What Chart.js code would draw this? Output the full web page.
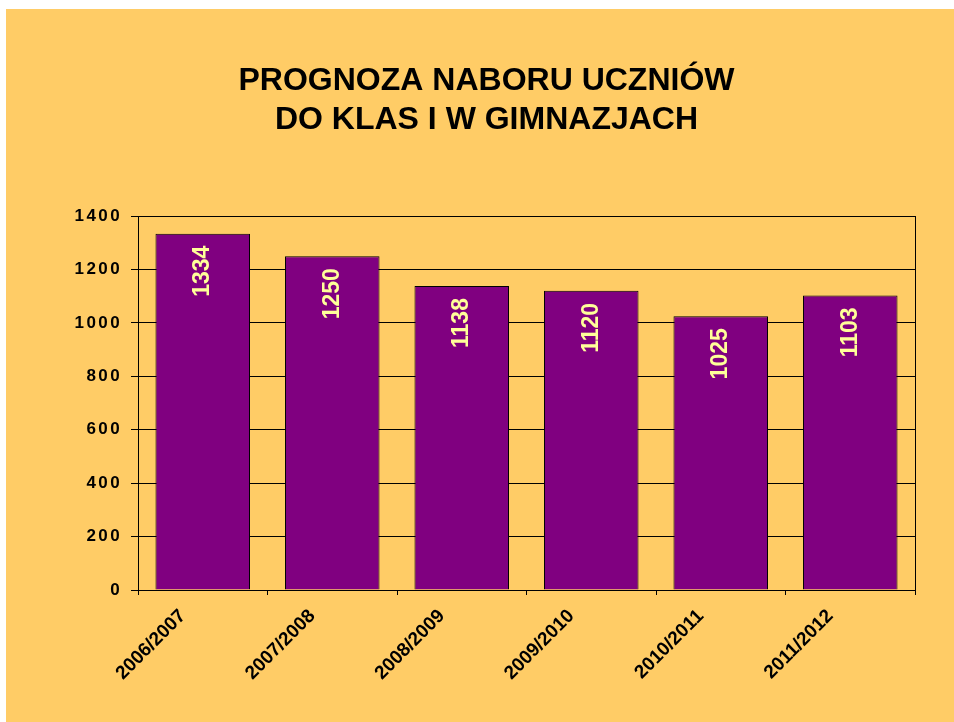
<!DOCTYPE html>
<html>
<head>
<meta charset="utf-8">
<script src="https://cdn.jsdelivr.net/npm/chart.js@4.4.1/dist/chart.umd.min.js"></script>
<style>
  body { margin: 0; background: #ffffff; }
  #panel { position: absolute; left: 6px; top: 9px; width: 948px; height: 713px; background: #FFCC66; }
</style>
</head>
<body>
<div id="panel"><canvas id="naborChart" width="948" height="713"></canvas></div>
<script>
// Dane wykresu
const lataSzkolne = ['2006/2007', '2007/2008', '2008/2009', '2009/2010', '2010/2011', '2011/2012'];
const liczbaUczniow = [1334, 1250, 1138, 1120, 1025, 1103];
const podzialkaY = [0, 200, 400, 600, 800, 1000, 1200, 1400];
const tytul = ['PROGNOZA NABORU UCZNIÓW', 'DO KLAS I W GIMNAZJACH'];

const FONT = "'Liberation Sans', Arial, sans-serif";

// Ramka obszaru wykresu (górna i prawa krawędź)
const ramkaPlugin = {
  id: 'ramka',
  beforeDraw(chart) {
    // odstępy między cyframi na osi Y
    const sy = chart.scales.y;
    if (sy && !sy._spaced) {
      const orig = sy.drawLabels;
      sy.drawLabels = function (area) {
        const ctx = this.ctx;
        ctx.save();
        ctx.letterSpacing = '2.4px';
        orig.call(this, area);
        ctx.restore();
      };
      sy._spaced = true;
    }
  },
  afterDraw(chart) {
    const { ctx, chartArea: a } = chart;
    ctx.save();
    ctx.strokeStyle = '#000000';
    ctx.lineWidth = 1;
    ctx.strokeRect(Math.round(a.left) + 0.5, Math.round(a.top) + 0.5,
      Math.round(a.right - a.left), Math.round(a.bottom - a.top));
    ctx.restore();
  }
};

// Wartości wpisane pionowo w słupki
const etykietyPlugin = {
  id: 'etykiety',
  afterDatasetsDraw(chart) {
    const ctx = chart.ctx;
    const meta = chart.getDatasetMeta(0);
    ctx.save();
    ctx.fillStyle = '#FFFF99';
    ctx.font = 'bold 23px ' + FONT;
    ctx.textAlign = 'right';
    ctx.textBaseline = 'middle';
    meta.data.forEach((bar, i) => {
      ctx.save();
      ctx.translate(bar.x, bar.y + 12);
      ctx.rotate(-Math.PI / 2);
      ctx.fillText(String(liczbaUczniow[i]), 0, 0);
      ctx.restore();
    });
    ctx.restore();
  }
};

new Chart(document.getElementById('naborChart'), {
  type: 'bar',
  data: {
    labels: lataSzkolne,
    datasets: [{
      data: liczbaUczniow,
      backgroundColor: '#800080',
      borderColor: '#000000',
      borderWidth: 1,
      barPercentage: 0.73,
      categoryPercentage: 1.0
    }]
  },
  options: {
    responsive: false,
    animation: false,
    layout: { padding: { left: 52, right: 39, top: 0, bottom: 0 } },
    plugins: {
      legend: { display: false },
      tooltip: { enabled: false },
      title: {
        display: true,
        text: tytul,
        color: '#000000',
        font: { family: FONT, size: 32, weight: 'bold', lineHeight: 1.22 },
        padding: { top: 53, bottom: 76 }
      }
    },
    scales: {
      x: {
        afterFit(scale) { scale.height = 132; },
        border: { color: '#000000', width: 1 },
        grid: { drawOnChartArea: false, drawTicks: true, tickLength: 5, color: '#000000' },
        ticks: {
          color: '#000000',
          font: { family: FONT, size: 19, weight: 'bold' },
          maxRotation: 45,
          minRotation: 45,
          padding: 10,
          labelOffset: -20
        }
      },
      y: {
        min: 0,
        max: 1400,
        afterFit(scale) { scale.width = 80; },
        afterBuildTicks(scale) { scale.ticks = podzialkaY.map(v => ({ value: v })); },
        border: { color: '#000000', width: 1 },
        grid: { color: '#000000', lineWidth: 1, tickLength: 7 },
        ticks: {
          color: '#000000',
          font: { family: FONT, size: 17, weight: 'bold' },
          padding: 9,
          callback: (v) => String(v)
        }
      }
    }
  },
  plugins: [ramkaPlugin, etykietyPlugin]
});
</script>
</body>
</html>
